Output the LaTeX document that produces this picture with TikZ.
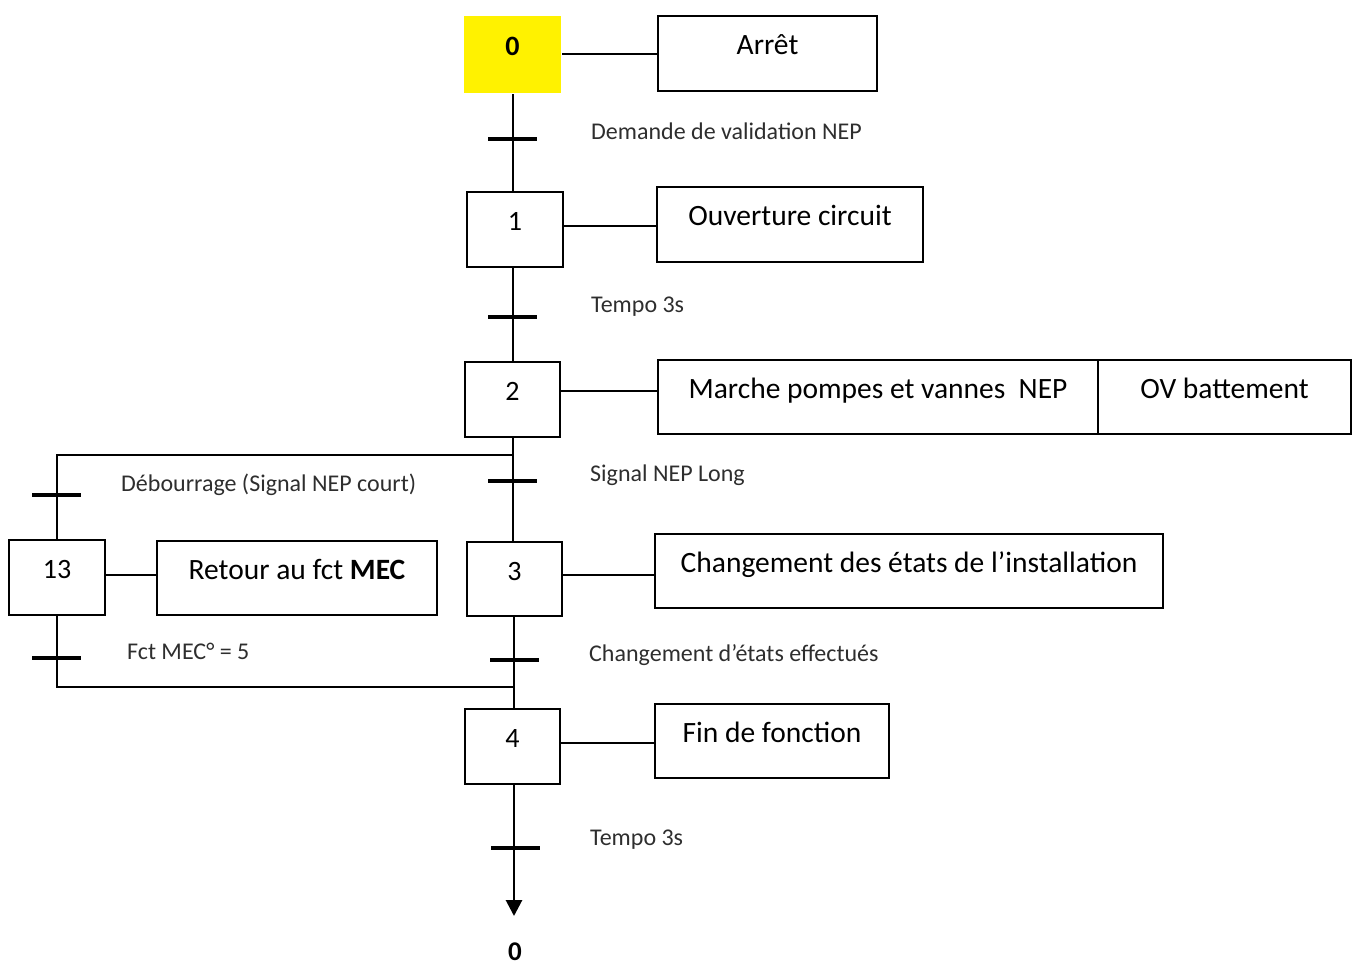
\documentclass[tikz,border=0pt]{standalone}
\usepackage{fontspec}
\setmainfont{Carlito}
\usetikzlibrary{arrows.meta}
\begin{document}
\begin{tikzpicture}[x=1pt,y=-1pt,
  stepbox/.style={draw, line width=2pt, minimum width=96pt, minimum height=75pt,
    inner sep=0pt, text height=14pt, text depth=11.6pt,
    font=\fontsize{28}{33}\selectfont},
  actbox/.style={draw, line width=2.4pt, minimum height=74pt, inner sep=0pt,
    text height=14pt, text depth=11.6pt, font=\fontsize{29.5}{34}\selectfont},
  trans/.style={fill=black, draw=none, minimum width=49pt, minimum height=3.6pt, inner sep=0pt},
  tlabel/.style={anchor=west, inner sep=0pt, text=black!82, font=\fontsize{24}{29}\selectfont},
  link/.style={line width=1.3pt},
  flow/.style={line width=1.5pt}]
\useasboundingbox (0,0) rectangle (1357,967);

% steps
\node[stepbox, fill=yellow, draw=none, minimum width=97pt, minimum height=77pt,
  font=\fontsize{28}{33}\selectfont\bfseries] (s0) at (512.5,54.5) {0};
\node[stepbox] (s1) at (515,229.5) {1};
\node[stepbox, minimum width=95pt] (s2) at (512.5,399.5) {2};
\node[stepbox, minimum width=95pt, minimum height=74pt] (s3) at (514.5,579) {3};
\node[stepbox, minimum width=95pt] (s4) at (512.5,746.5) {4};
\node[stepbox] (s13) at (57,577.5) {13};

% actions
\node[actbox, minimum width=219pt, minimum height=75pt] (a0) at (767.5,53.5) {Arrêt};
\node[actbox, minimum width=266pt, minimum height=75pt] (a1) at (790,224.5) {Ouverture circuit};
\node[actbox, minimum width=440pt] (a2) at (878,397) {Marche pompes et vannes\ \ NEP};
\node[actbox, minimum width=253pt] (a2b) at (1224.5,397) {OV battement};
\node[actbox, minimum width=508pt] (a3) at (909,571) {Changement des états de l’installation};
\node[actbox, minimum width=234pt] (a4) at (772,741) {Fin de fonction};
\node[actbox, minimum width=280pt] (a13) at (297,578) {Retour au fct \textbf{MEC}};

% step-to-action links
\draw[link] (s0.east |- 0,54) -- (a0.west |- 0,54);
\draw[link] (s1.east |- 0,226) -- (a1.west |- 0,226);
\draw[link] (s2.east |- 0,391) -- (a2.west |- 0,391);
\draw[link] (s3.east |- 0,575) -- (a3.west |- 0,575);
\draw[link] (s4.east |- 0,743) -- (a4.west |- 0,743);
\draw[link] (s13.east |- 0,575) -- (a13.west |- 0,575);

% junction points of the divergence and convergence
\coordinate (j1) at (513,455);
\coordinate (j2) at (514,687);
\coordinate (end) at (514,916);

% vertical flow lines
\draw[flow] (513,93) coordinate (s0b) (s0.south -| s0b) -- (s0b |- s1.north);
\draw[flow] (513,267) coordinate (s1b) (s1b |- s1.south) -- (s1b |- s2.north);
\draw[flow] (s2.south -| j1) -- (j1 |- s3.north);
\draw[flow] (j1) -| (s13.north);
\draw[flow] (s13.south) |- (j2);
\draw[flow] (s3.south -| j2) -- (j2 |- s4.north);
\draw[line width=2.8pt, -{Triangle[width=16pt,length=16pt]}] (s4.south -| end) -- (end);

% transitions
\node[trans] (t01) at (512.5,139) {};
\node[trans] (t12) at (512.5,317) {};
\node[trans] (t23) at (512.5,481) {};
\node[trans] (t213) at (56,495) {};
\node[trans] (t34) at (514.5,660) {};
\node[trans] (t134) at (56,658) {};
\node[trans] (t40) at (515,848) {};

% receptivities
\node[tlabel] (r01) at (591,131) {Demande de validation NEP};
\node[tlabel] (r12) at (591,307) {Tempo 3s};
\node[tlabel] (r23) at (590,475) {Signal NEP Long};
\node[tlabel] (r213) at (121,485) {Débourrage (Signal NEP court)};
\node[tlabel] (r34) at (589,655) {Changement d’états effectués};
\node[tlabel] (r134) at (127,651) {Fct MEC° = 5};
\node[tlabel] (r40) at (590,840) {Tempo 3s};

% return target
\node[font=\fontsize{27}{32}\selectfont\bfseries, inner sep=0pt] (ret) at (515,952) {0};
\end{tikzpicture}
\end{document}
